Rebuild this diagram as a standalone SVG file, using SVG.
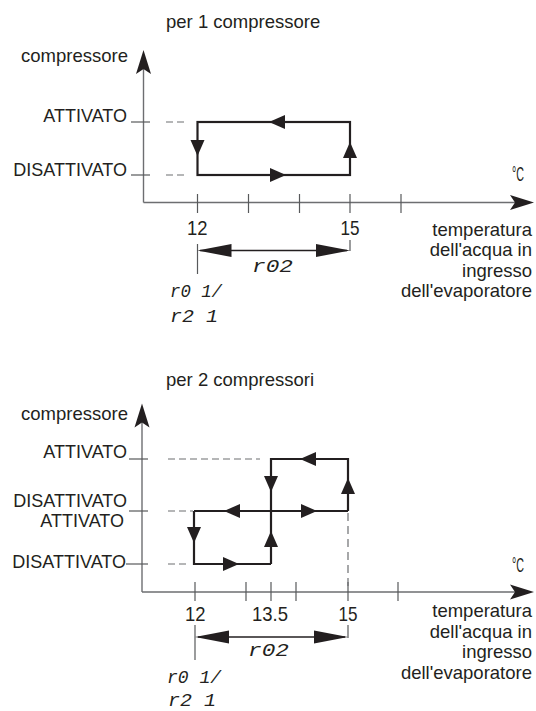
<svg xmlns="http://www.w3.org/2000/svg" xmlns:xlink="http://www.w3.org/1999/xlink" width="536" height="711" viewBox="0 0 536 711">
<style>
  .lbl{font-family:"Liberation Sans",Arial,sans-serif;font-size:18.5px;fill:#231f20}
  .cap{font-family:"Liberation Sans",Arial,sans-serif;font-size:18px;fill:#231f20}
  .deg{font-family:"Liberation Sans",Arial,sans-serif;font-size:20px;fill:#231f20}
  .num{font-family:"Liberation Sans",Arial,sans-serif;font-size:21px;fill:#231f20}
  .seg{font-family:"Liberation Mono","DejaVu Sans Mono",monospace;font-style:italic;font-size:18px;fill:#231f20}
  .axis{stroke:#6d6e71;stroke-width:1.4;fill:none}
  .tick{stroke:#58595b;stroke-width:1.2;fill:none}
  .dash{stroke:#6d6e71;stroke-width:1.2;fill:none;stroke-dasharray:7 4}
  .loop{stroke:#231f20;stroke-width:2.2;fill:none;stroke-linejoin:miter}
  .dim{stroke:#231f20;stroke-width:1.3;fill:none}
  .head{fill:#231f20}
</style>
<defs>
  <path id="tri" d="M0,0 L-16,-7 L-16,7 Z"/>
  <path id="dimhead" d="M0,0 L-34,-6.5 L-34,6.5 Z"/>
  <path id="axhead" d="M0,0 L-24,-7.5 L-19,0 L-24,7.5 Z"/>
</defs>

<!-- ============ TOP CHART: per 1 compressore ============ -->
<g id="title1"><text class="lbl" x="166" y="28">per 1 compressore</text></g>

<g id="axes1">
  <line class="axis" x1="143.5" y1="202.5" x2="143.5" y2="60"/>
  <use href="#axhead" class="head" transform="translate(143.5,50) rotate(-90)"/>
  <line class="axis" x1="143.5" y1="202.5" x2="520" y2="202.5"/>
  <use href="#axhead" class="head" transform="translate(534,202.5)"/>
  <text class="lbl" x="128" y="62" text-anchor="end">compressore</text>
  <text class="deg" x="512" y="181" textLength="12" lengthAdjust="spacingAndGlyphs">°C</text>
  <g id="xticks1">
    <line class="tick" x1="197.5" y1="194" x2="197.5" y2="213"/>
    <line class="tick" x1="248.5" y1="194" x2="248.5" y2="213"/>
    <line class="tick" x1="299.5" y1="194" x2="299.5" y2="213"/>
    <line class="tick" x1="350" y1="194" x2="350" y2="213"/>
    <line class="tick" x1="401" y1="194" x2="401" y2="213"/>
  </g>
  <text class="num" x="187" y="235" textLength="20.5" lengthAdjust="spacingAndGlyphs">12</text>
  <text class="num" x="340.5" y="235" textLength="19" lengthAdjust="spacingAndGlyphs">15</text>
  <text class="lbl" x="532" y="235.5" text-anchor="end">temperatura</text>
  <text class="lbl" x="532" y="256" text-anchor="end">dell'acqua in</text>
  <text class="lbl" x="532" y="276.5" text-anchor="end">ingresso</text>
  <text class="lbl" x="532" y="297" text-anchor="end">dell'evaporatore</text>
</g>

<g id="state-on-1">
  <text class="cap" x="127" y="122" text-anchor="end">ATTIVATO</text>
  <line class="tick" x1="131" y1="122" x2="150" y2="122"/>
  <line class="dash" x1="166" y1="122" x2="184" y2="122"/>
</g>
<g id="state-off-1">
  <text class="cap" x="127" y="176" text-anchor="end">DISATTIVATO</text>
  <line class="tick" x1="131" y1="175" x2="150" y2="175"/>
  <line class="dash" x1="166" y1="175" x2="184" y2="175"/>
</g>

<g id="connectors1">
  <rect class="loop" x="197.5" y="122" width="152.5" height="53"/>
  <use href="#tri" class="head" transform="translate(269,122) rotate(180)"/>
  <use href="#tri" class="head" transform="translate(197.5,156) rotate(90)"/>
  <use href="#tri" class="head" transform="translate(350,142) rotate(-90)"/>
  <use href="#tri" class="head" transform="translate(286,175)"/>
</g>

<g id="dimension1">
  <line class="tick" x1="197.5" y1="244" x2="197.5" y2="274"/>
  <line class="tick" x1="350" y1="240" x2="350" y2="251"/>
  <line class="dim" x1="200" y1="250.5" x2="347" y2="250.5"/>
  <use href="#dimhead" class="head" transform="translate(197.5,250.5) rotate(180)"/>
  <use href="#dimhead" class="head" transform="translate(350,250.5)"/>
  <text class="seg" x="252" y="272" textLength="41" lengthAdjust="spacingAndGlyphs">r02</text>
  <text class="seg" x="170" y="297" textLength="52" lengthAdjust="spacingAndGlyphs">r0 1/</text>
  <text class="seg" x="170" y="322" textLength="48" lengthAdjust="spacingAndGlyphs">r2 1</text>
</g>

<!-- ============ BOTTOM CHART: per 2 compressori ============ -->
<g id="title2"><text class="lbl" x="166" y="386">per 2 compressori</text></g>

<g id="axes2">
  <line class="axis" x1="142" y1="592" x2="142" y2="413"/>
  <use href="#axhead" class="head" transform="translate(142,403.5) rotate(-90)"/>
  <line class="axis" x1="142" y1="592" x2="520" y2="592"/>
  <use href="#axhead" class="head" transform="translate(534,592)"/>
  <text class="lbl" x="128" y="420" text-anchor="end">compressore</text>
  <text class="deg" x="512" y="572" textLength="12" lengthAdjust="spacingAndGlyphs">°C</text>
  <g id="xticks2">
    <line class="tick" x1="195" y1="582" x2="195" y2="601"/>
    <line class="tick" x1="246" y1="582" x2="246" y2="601"/>
    <line class="tick" x1="271" y1="582" x2="271" y2="601"/>
    <line class="tick" x1="296" y1="582" x2="296" y2="601"/>
    <line class="tick" x1="348" y1="582" x2="348" y2="601"/>
    <line class="tick" x1="398" y1="582" x2="398" y2="601"/>
  </g>
  <text class="num" x="185" y="620.5" textLength="20.5" lengthAdjust="spacingAndGlyphs">12</text>
  <text class="num" x="252" y="620.5" textLength="36" lengthAdjust="spacingAndGlyphs">13.5</text>
  <text class="num" x="338.5" y="620.5" textLength="19" lengthAdjust="spacingAndGlyphs">15</text>
  <text class="lbl" x="532" y="617" text-anchor="end">temperatura</text>
  <text class="lbl" x="532" y="637.5" text-anchor="end">dell'acqua in</text>
  <text class="lbl" x="532" y="658" text-anchor="end">ingresso</text>
  <text class="lbl" x="532" y="678.5" text-anchor="end">dell'evaporatore</text>
</g>

<g id="state-on-2">
  <text class="cap" x="127" y="458" text-anchor="end">ATTIVATO</text>
  <line class="tick" x1="129" y1="459" x2="148" y2="459"/>
  <line class="dash" x1="168" y1="459" x2="260" y2="459"/>
</g>
<g id="state-mid-2">
  <text class="cap" x="127" y="506.5" text-anchor="end">DISATTIVATO</text>
  <text class="cap" x="124" y="526.5" text-anchor="end">ATTIVATO</text>
  <line class="tick" x1="129" y1="511" x2="148" y2="511"/>
  <line class="dash" x1="168" y1="511" x2="193" y2="511"/>
</g>
<g id="state-off-2">
  <text class="cap" x="126" y="568" text-anchor="end">DISATTIVATO</text>
  <line class="tick" x1="126" y1="564" x2="148" y2="564"/>
  <line class="dash" x1="168" y1="564" x2="188" y2="564"/>
</g>

<g id="connectors2">
  <line class="dash" x1="348" y1="513" x2="348" y2="592" style="stroke-dasharray:8 5"/>
  <path class="loop" d="M271,564 V459 H348 V511"/>
  <path class="loop" d="M194,511 H348"/>
  <path class="loop" d="M194,511 V564 H271"/>
  <use href="#tri" class="head" transform="translate(300,459) rotate(180)"/>
  <use href="#tri" class="head" transform="translate(271,492) rotate(90)"/>
  <use href="#tri" class="head" transform="translate(348,478) rotate(-90)"/>
  <use href="#tri" class="head" transform="translate(224,511) rotate(180)"/>
  <use href="#tri" class="head" transform="translate(317,511)"/>
  <use href="#tri" class="head" transform="translate(194,543) rotate(90)"/>
  <use href="#tri" class="head" transform="translate(271,531) rotate(-90)"/>
  <use href="#tri" class="head" transform="translate(239,564)"/>
</g>

<g id="dimension2">
  <line class="tick" x1="195" y1="625" x2="195" y2="660"/>
  <line class="tick" x1="348" y1="625" x2="348" y2="638"/>
  <line class="dim" x1="198" y1="637" x2="345" y2="637"/>
  <use href="#dimhead" class="head" transform="translate(195,637) rotate(180)"/>
  <use href="#dimhead" class="head" transform="translate(348,637)"/>
  <text class="seg" x="248" y="656" textLength="41" lengthAdjust="spacingAndGlyphs">r02</text>
  <text class="seg" x="167" y="683" textLength="54" lengthAdjust="spacingAndGlyphs">r0 1/</text>
  <text class="seg" x="168" y="706" textLength="48" lengthAdjust="spacingAndGlyphs">r2 1</text>
</g>
</svg>
